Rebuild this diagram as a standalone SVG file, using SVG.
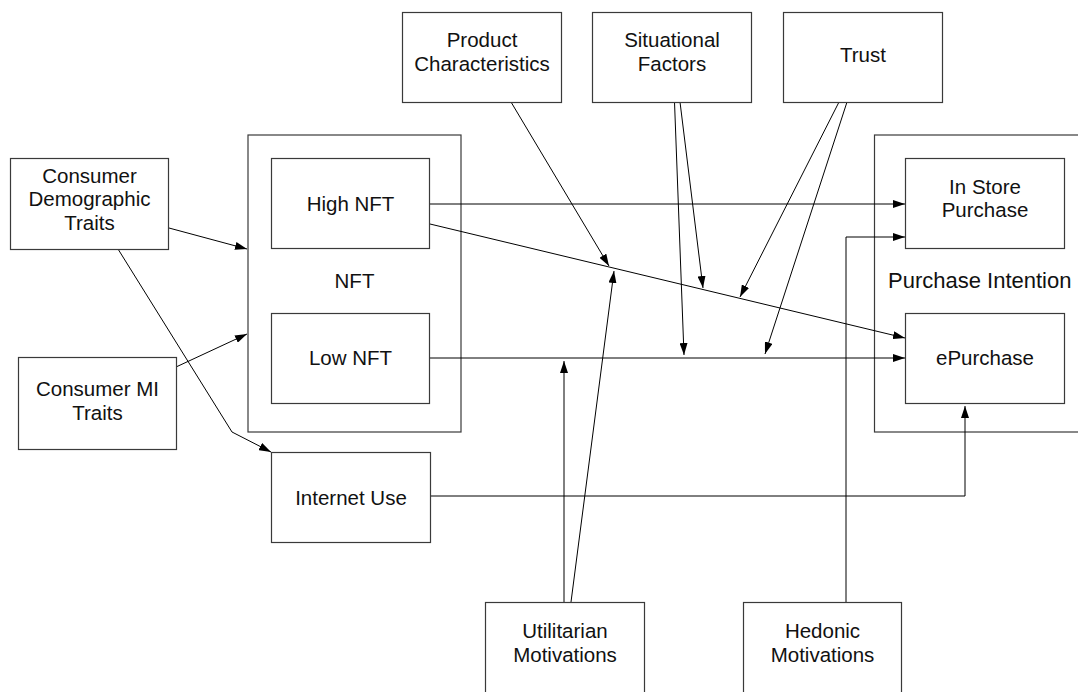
<svg xmlns="http://www.w3.org/2000/svg" width="1078" height="692" viewBox="0 0 1078 692">
  <style>
    .box { fill: #ffffff; stroke: #3a3a3a; stroke-width: 1.2; }
    .frame { fill: none; stroke: #3a3a3a; stroke-width: 1.2; }
    .lbl { font-family: "Liberation Sans", Arial, Helvetica, sans-serif; font-size: 20.5px; fill: #111111; text-anchor: middle; }
    .big { font-size: 22px; text-anchor: start; }
    .link { fill: none; stroke: #000000; stroke-width: 1; }
  </style>
  <defs>
    <marker id="arrow" markerUnits="userSpaceOnUse" markerWidth="12" markerHeight="8" refX="12" refY="4" orient="auto">
      <path d="M0,0 L12,4 L0,8 z" fill="#000000"/>
    </marker>
  </defs>

  <rect width="1078" height="692" fill="#ffffff"/>

  <!-- container frames -->
  <g id="nft">
    <rect class="frame" x="248" y="135" width="213" height="297"/>
    <text class="lbl" x="354.5" y="288">NFT</text>
  </g>
  <g id="purchase-intention">
    <rect class="frame" x="874.5" y="135" width="230" height="297"/>
    <text class="lbl big" x="888" y="288">Purchase Intention</text>
  </g>

  <!-- connectors -->
  <g id="connectors">
    <path class="link" d="M169,228 L247,249" marker-end="url(#arrow)"/>
    <path class="link" d="M118,249 L232,432 L271,452" marker-end="url(#arrow)"/>
    <path class="link" d="M176,367 L247,334" marker-end="url(#arrow)"/>
    <path class="link" d="M430,204 L905,204" marker-end="url(#arrow)"/>
    <path class="link" d="M430,224 L905,338" marker-end="url(#arrow)"/>
    <path class="link" d="M430,358 L905,358" marker-end="url(#arrow)"/>
    <path class="link" d="M511,102 L609,266" marker-end="url(#arrow)"/>
    <path class="link" d="M674.5,102 L684,355" marker-end="url(#arrow)"/>
    <path class="link" d="M680,102 L703,288" marker-end="url(#arrow)"/>
    <path class="link" d="M839,102 L740,297" marker-end="url(#arrow)"/>
    <path class="link" d="M847,102 L765,354" marker-end="url(#arrow)"/>
    <path class="link" d="M564,602 L564,361" marker-end="url(#arrow)"/>
    <path class="link" d="M571,602 L614,271" marker-end="url(#arrow)"/>
    <path class="link" d="M846,602 L846,237 L905,237" marker-end="url(#arrow)"/>
    <path class="link" d="M430,496 L965,496 L965,406" marker-end="url(#arrow)"/>
  </g>

  <!-- nodes -->
  <g id="product-characteristics">
    <rect class="box" x="402.5" y="12.5" width="159" height="90"/>
    <text class="lbl" x="482" y="47">Product</text>
    <text class="lbl" x="482" y="71">Characteristics</text>
  </g>
  <g id="situational-factors">
    <rect class="box" x="592.5" y="12.5" width="159" height="90"/>
    <text class="lbl" x="672" y="47">Situational</text>
    <text class="lbl" x="672" y="71">Factors</text>
  </g>
  <g id="trust">
    <rect class="box" x="783.5" y="12.5" width="159" height="90"/>
    <text class="lbl" x="863" y="62">Trust</text>
  </g>
  <g id="consumer-demographic-traits">
    <rect class="box" x="10.5" y="158.5" width="158" height="91"/>
    <text class="lbl" x="89.5" y="183">Consumer</text>
    <text class="lbl" x="89.5" y="206">Demographic</text>
    <text class="lbl" x="89.5" y="230">Traits</text>
  </g>
  <g id="high-nft">
    <rect class="box" x="271.5" y="158.5" width="158" height="90"/>
    <text class="lbl" x="350.5" y="211">High NFT</text>
  </g>
  <g id="low-nft">
    <rect class="box" x="271.5" y="313.5" width="158" height="90"/>
    <text class="lbl" x="350.5" y="365">Low NFT</text>
  </g>
  <g id="consumer-mi-traits">
    <rect class="box" x="18.5" y="357.5" width="158" height="92"/>
    <text class="lbl" x="97.5" y="396">Consumer MI</text>
    <text class="lbl" x="97.5" y="420">Traits</text>
  </g>
  <g id="internet-use">
    <rect class="box" x="271.5" y="452.5" width="159" height="90"/>
    <text class="lbl" x="351" y="505">Internet Use</text>
  </g>
  <g id="in-store-purchase">
    <rect class="box" x="905.5" y="158.5" width="159" height="90"/>
    <text class="lbl" x="985" y="194">In Store</text>
    <text class="lbl" x="985" y="217">Purchase</text>
  </g>
  <g id="epurchase">
    <rect class="box" x="905.5" y="313.5" width="159" height="90"/>
    <text class="lbl" x="985" y="365">ePurchase</text>
  </g>
  <g id="utilitarian-motivations">
    <rect class="box" x="485.5" y="602.5" width="159" height="120"/>
    <text class="lbl" x="565" y="638">Utilitarian</text>
    <text class="lbl" x="565" y="662">Motivations</text>
  </g>
  <g id="hedonic-motivations">
    <rect class="box" x="743.5" y="602.5" width="158" height="120"/>
    <text class="lbl" x="822.5" y="638">Hedonic</text>
    <text class="lbl" x="822.5" y="662">Motivations</text>
  </g>
</svg>
